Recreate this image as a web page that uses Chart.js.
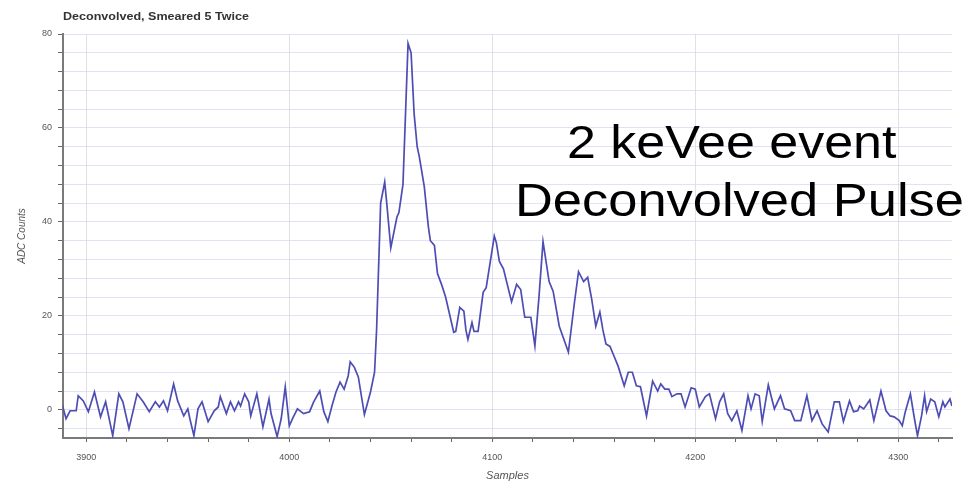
<!DOCTYPE html>
<html>
<head>
<meta charset="utf-8">
<title>Deconvolved, Smeared 5 Twice</title>
<script src="https://cdn.jsdelivr.net/npm/chart.js@4/dist/chart.umd.min.js"></script>
<style>
  html, body { margin: 0; padding: 0; background: #ffffff; }
  #wrap { width: 963px; height: 493px; position: relative; }
</style>
</head>
<body>
<div id="wrap"><canvas id="c" width="963" height="493"></canvas></div>
<script>
// Pulse trace: sample index and ADC counts at each vertex of the waveform
const samples = [3888,3890,3892,3895,3896,3898.5,3901,3904,3907,3909.5,3913,3916,3918,3921,3925,3928,3931,3934,3936,3938,
  3940,3943,3945,3948,3950,3951,3953,3955,3957,3960,3963,3965,3966,3969,3971,3973,3975,3976,3978,3980,
  3981,3984,3987,3990,3991,3994,3996,3998,4000,4002,4004,4007,4010,4012,4015,4017,4019,4021,4023,4025,
  4027,4029,4030,4032,4034,4037,4040,4042,4043,4045,4047,4048,4050,4053,4054,4056,4058.5,4060,4061.5,4063,
  4064,4066.5,4068.5,4069.5,4071.5,4073,4075,4077,4081,4082,4084,4086,4087,4088,4090,4091,4093,4095.5,4097,4101,
  4102,4103.5,4105.5,4109.5,4112,4114,4116,4119,4121,4123,4125,4128,4130,4133,4137.5,4140.5,4142.5,4145,4147,4149,
  4151,4153,4154.5,4156,4158,4160,4162,4165,4167,4169,4171,4173,4176,4179,4181.5,4183,4185,4187,4188.5,4191,
  4193,4195,4198,4200,4202,4205,4207,4210,4212,4214,4216,4218,4220.5,4223,4226,4227.5,4229.5,4231.5,4233,4236,
  4239,4242,4244,4247,4249,4252,4255,4257.5,4260,4262.5,4265.5,4268.5,4271,4273,4276,4278,4280,4281,4283,4286,
  4288,4291.5,4294,4296,4298,4300.5,4302,4303.5,4306,4308,4309.5,4311.5,4313,4314,4316,4318,4320,4322,4323,4325.5,
  4326.5,4328];
const adcCounts = [1.3,-1.9,-0.2,-0.2,3.0,1.9,-0.4,3.8,-1.5,1.7,-5.5,3.4,1.7,-4.0,3.4,1.7,-0.4,1.7,0.6,1.9,
  -0.2,5.5,1.9,-1.3,0.2,-1.9,-5.5,0.2,1.7,-2.5,-0.2,0.6,2.8,-0.8,1.7,-0.2,1.7,0.8,3.4,1.7,
  -1.3,3.4,-3.6,2.3,-0.8,-5.7,-1.9,4.9,-3.4,-1.5,0.2,-0.8,-0.4,1.7,4.0,-0.4,-2.5,0.8,3.8,5.9,
  4.4,7.2,10.2,9.1,7.0,-1.0,3.8,8.0,17,44,48.5,44,34.5,41,42,48,78,76,63,56,
  54,47.5,39,36,35,29,26.7,24,16.5,16.7,21.8,21,17,15,18.6,16.7,16.7,25,26,37,
  35.6,31.6,30,23,26.7,25.6,19.7,19.7,13.6,24,35.8,27.3,25.2,17.8,12.3,22.9,29.4,27.3,28.2,23.5,
  17.8,20.8,17,14,13.5,11.4,9.3,5.1,8.0,8.0,5.1,4.9,-1.3,6.1,4.0,5.5,4.4,4.4,2.8,3.4,
  3.4,0.6,4.7,4.4,0.6,2.8,3.4,-1.9,1.7,3.4,-0.8,-2.3,-0.2,-4.4,3.0,0.2,3.4,3.0,-2.5,5.3,
  0.2,3.0,0.2,-0.2,-2.3,-2.3,3.0,-2.3,-0.2,-3.0,-4.7,1.7,1.7,-2.5,1.9,-0.4,-0.2,0.8,0.2,2.1,
  -2.3,4.0,-0.2,-1.3,-1.5,-2.3,-3.4,-0.4,3.4,-1.9,-5.5,-1.3,3.0,-0.4,2.3,1.7,-1.5,1.7,0.6,2.3,
  0.8,3.4];

// Axis ticks: minor every 20 samples / 4 counts, labels on majors only
const sampleTicks = [];
for (let s = 3900; s <= 4320; s += 20) sampleTicks.push(s);
const countTicks = [];
for (let v = -4; v <= 80; v += 4) countTicks.push(v);
const sampleLabelStep = 100;
const countLabelStep = 20;

const chartTitle = 'Deconvolved, Smeared 5 Twice';
const noteLines = ['2 keVee event', 'Deconvolved Pulse'];

Chart.defaults.font.family = "'Liberation Sans', Arial, Helvetica, sans-serif";

// Draws the header and the large note over the plot
const textOverlay = {
  id: 'textOverlay',
  afterDraw(chart) {
    const ctx = chart.ctx;
    const area = chart.chartArea;
    ctx.save();
    ctx.fillStyle = '#333333';
    ctx.font = "bold 11px 'Liberation Sans', Arial, sans-serif";
    ctx.textBaseline = 'middle';
    ctx.textAlign = 'left';
    ctx.translate(area.left, 17);
    ctx.scale(1.14, 1);
    ctx.fillText(chartTitle, 0, 0);
    ctx.restore();

    ctx.save();
    ctx.fillStyle = '#000000';
    ctx.font = "46px 'Liberation Sans', Arial, sans-serif";
    ctx.textBaseline = 'alphabetic';
    ctx.textAlign = 'left';
    ctx.save();
    ctx.translate(567, 158);
    ctx.scale(1.13, 1);
    ctx.fillText(noteLines[0], 0, 0);
    ctx.restore();
    ctx.save();
    ctx.translate(515, 216);
    ctx.scale(1.14, 1);
    ctx.fillText(noteLines[1], 0, 0);
    ctx.restore();
    ctx.restore();
  }
};

new Chart(document.getElementById('c'), {
  type: 'line',
  data: {
    datasets: [{
      label: 'ADC Counts',
      data: samples.map((s, i) => ({ x: s, y: adcCounts[i] })),
      borderColor: '#4d4db4',
      borderWidth: 1.7,
      pointRadius: 0,
      tension: 0,
      fill: false
    }]
  },
  options: {
    responsive: false,
    animation: false,
    layout: { padding: { top: 34, right: 11, left: 0, bottom: 10 } },
    plugins: {
      legend: { display: false },
      title: { display: false },
      tooltip: { enabled: false }
    },
    scales: {
      x: {
        type: 'linear',
        min: 3888.5,
        max: 4326.5,
        afterBuildTicks: (scale) => { scale.ticks = sampleTicks.map(v => ({ value: v })); },
        afterFit: (scale) => { scale.height = 45; },
        ticks: {
          autoSkip: false,
          maxRotation: 0,
          padding: 10,
          color: '#555555',
          font: { size: 9 },
          callback: (v) => (v % sampleLabelStep === 0 ? String(v) : '')
        },
        grid: {
          color: (c) => (c.tick && c.tick.value % sampleLabelStep === 0 ? '#e0e0e6' : 'rgba(0,0,0,0)'),
          lineWidth: 1,
          tickColor: '#666666',
          tickLength: 4
        },
        border: { color: '#7a7a7a', width: 2 },
        title: {
          display: true,
          text: 'Samples',
          color: '#555555',
          font: { size: 11, style: 'italic' },
          padding: { top: 2, bottom: 0 }
        }
      },
      y: {
        min: -6,
        max: 80,
        afterBuildTicks: (scale) => { scale.ticks = countTicks.map(v => ({ value: v })); },
        afterFit: (scale) => { scale.width = 63; },
        ticks: {
          autoSkip: false,
          padding: 6,
          color: '#555555',
          font: { size: 9 },
          callback: (v) => (v % countLabelStep === 0 ? String(v) : '')
        },
        grid: {
          color: 'rgba(210,210,242,0.65)',
          lineWidth: 1,
          tickColor: '#666666',
          tickLength: 5
        },
        border: { color: '#7a7a7a', width: 2 },
        title: {
          display: true,
          text: 'ADC Counts',
          color: '#555555',
          font: { size: 10, style: 'italic' },
          padding: { top: 16, bottom: 6 }
        }
      }
    }
  },
  plugins: [textOverlay]
});
</script>
</body>
</html>
